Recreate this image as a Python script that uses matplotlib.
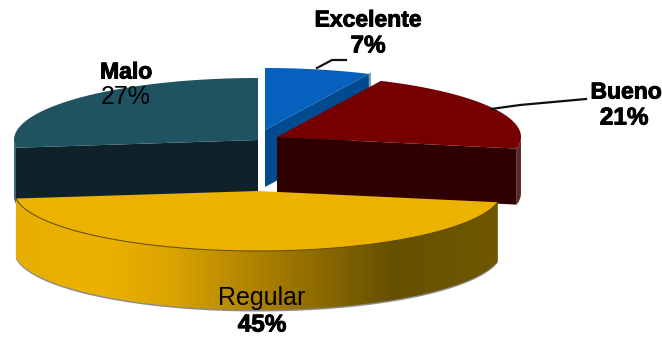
import numpy as np
import matplotlib
matplotlib.use("Agg")
import matplotlib.pyplot as plt
import matplotlib.patheffects as pe
from matplotlib.colors import LinearSegmentedColormap
from matplotlib.patches import Polygon

categories = ["Excelente", "Bueno", "Regular", "Malo"]
percentages = [7, 21, 45, 27]
top_colors = ["#0560BE", "#760000", "#ECB200", "#1F5361"]
cut_colors = ["#004A90", "#2E0000", "#ECB200", "#0F2229"]
rim_colors = ["#7F9FBF", "#5A2A2A", "#ECB200", "#2F6270"]
centers = [(265, 130), (277, 137), (258, 191), (258, 140)]
depths = [57, 56, 59, 56]
semi_minor = [62, 62, 60, 62]

RX = 244
START_ANGLE = 90

plt.rcParams["font.family"] = ["Liberation Sans", "DejaVu Sans"]
fig = plt.figure(figsize=(6.62, 3.39), dpi=100)
ax = fig.add_axes([0, 0, 1, 1])
ax.axis("off")


def ellipse_point(center, ry, deg):
    rad = np.radians(deg)
    return center[0] + RX * np.cos(rad), center[1] - ry * np.sin(rad)


# Slice boundaries run clockwise from the top of the pie.
sweep = np.array(percentages) / sum(percentages) * 360
ends = START_ANGLE - np.cumsum(sweep)
starts = ends + sweep


def extrude(edge_xy, depth):
    return edge_xy + np.array([0, depth])


def draw_slice(i, zorder):
    center, depth, ry = centers[i], depths[i], semi_minor[i]
    a0, a1 = starts[i], ends[i]
    tip = np.array(center, dtype=float)
    degs = np.linspace(a0, a1, 240)
    outline = np.column_stack(ellipse_point(center, ry, degs))

    # A cut face shows when it turns towards the viewer.
    visible_edges = []
    if np.cos(np.radians(a0)) < -1e-6:
        visible_edges.append(outline[0])
    if np.cos(np.radians(a1)) > 1e-6:
        visible_edges.append(outline[-1])
    for edge in visible_edges:
        face = np.array([tip, edge, extrude(edge, depth), extrude(tip, depth)])
        ax.add_patch(Polygon(face, closed=True, fc=cut_colors[i], ec="none", zorder=zorder))

    # Outer rim below the horizontal axis of the ellipse.
    front = degs[np.sin(np.radians(degs)) < 0.02]
    if front.size > 1:
        upper = np.column_stack(ellipse_point(center, ry, front))
        lower = extrude(upper, depth)
        rim = np.vstack([upper, lower[::-1]])
        if categories[i] == "Regular":
            ax.add_patch(Polygon(rim + np.array([0, 1.5]), closed=True, fc="#8C8C8C",
                                 ec="none", zorder=zorder))
            stops = [(0.0, "#E6AE00"), (0.17, "#ECB200"), (0.32, "#DBA400"),
                     (0.52, "#A87E00"), (0.78, "#665000"), (1.0, "#705800")]
            cmap = LinearSegmentedColormap.from_list("rim", stops)
            band = np.linspace(0, 1, 256).reshape(1, -1)
            image = ax.imshow(band, cmap=cmap, aspect="auto", zorder=zorder + 0.1,
                              extent=[upper[:, 0].min(), upper[:, 0].max(),
                                      lower[:, 1].max(), upper[:, 1].min()])
            clip = Polygon(rim, closed=True, transform=ax.transData, fc="none", ec="none")
            ax.add_patch(clip)
            image.set_clip_path(clip)
        else:
            ax.add_patch(Polygon(rim, closed=True, fc=rim_colors[i], ec="none", zorder=zorder))
    elif categories[i] == "Excelente":
        # Pale sliver where the blue slice ends behind the red one.
        edge = outline[-1]
        ax.plot([edge[0] + 1, edge[0] + 1], [edge[1], edge[1] + 12], color=rim_colors[i],
                lw=1.5, zorder=zorder)

    # Top face.
    ax.add_patch(Polygon(np.vstack([tip, outline]), closed=True, fc=top_colors[i],
                         ec="none", zorder=zorder + 0.2))
    if categories[i] == "Regular":
        arc_front = outline[np.sin(np.radians(degs)) < 0.2]
        ax.plot(arc_front[:, 0], arc_front[:, 1], color="#5C4500", lw=0.7, zorder=zorder + 0.3)


# Back slices first so the front slice overlaps them.
for zorder, idx in enumerate([3, 0, 1, 2], start=1):
    draw_slice(idx, zorder)

ax.set_xlim(0, 662)
ax.set_ylim(339, 0)

# Leader lines.
ax.plot([317, 332, 346], [68, 60, 60], color="#111111", lw=1.6, zorder=6)
ax.plot([491, 520, 586], [109, 105, 99], color="#111111", lw=1.6, zorder=6)

# Slice labels; the bold ones carry a thin stroke for extra weight.
heavy = [pe.withStroke(linewidth=0.7, foreground="black")]
label_style = dict(ha="center", va="center", color="black", zorder=7)
bold_name = dict(fontweight="bold", fontsize=16.5, path_effects=heavy, **label_style)
bold_pct = dict(fontweight="bold", fontsize=17.5, path_effects=heavy, **label_style)
plain = dict(fontsize=18, **label_style)

ax.text(368, 20, categories[0], **bold_name)
ax.text(368, 46, f"{percentages[0]}%", **bold_pct)
ax.text(626, 92, categories[1], **bold_name)
ax.text(624, 118, f"{percentages[1]}%", **bold_pct)
ax.text(262, 298, categories[2], **plain)
ax.text(262, 325, f"{percentages[2]}%", **bold_pct)
ax.text(126, 72, categories[3], **bold_name)
ax.text(126, 97, f"{percentages[3]}%", **plain)

fig.savefig("out.png", dpi=100, facecolor="white")
